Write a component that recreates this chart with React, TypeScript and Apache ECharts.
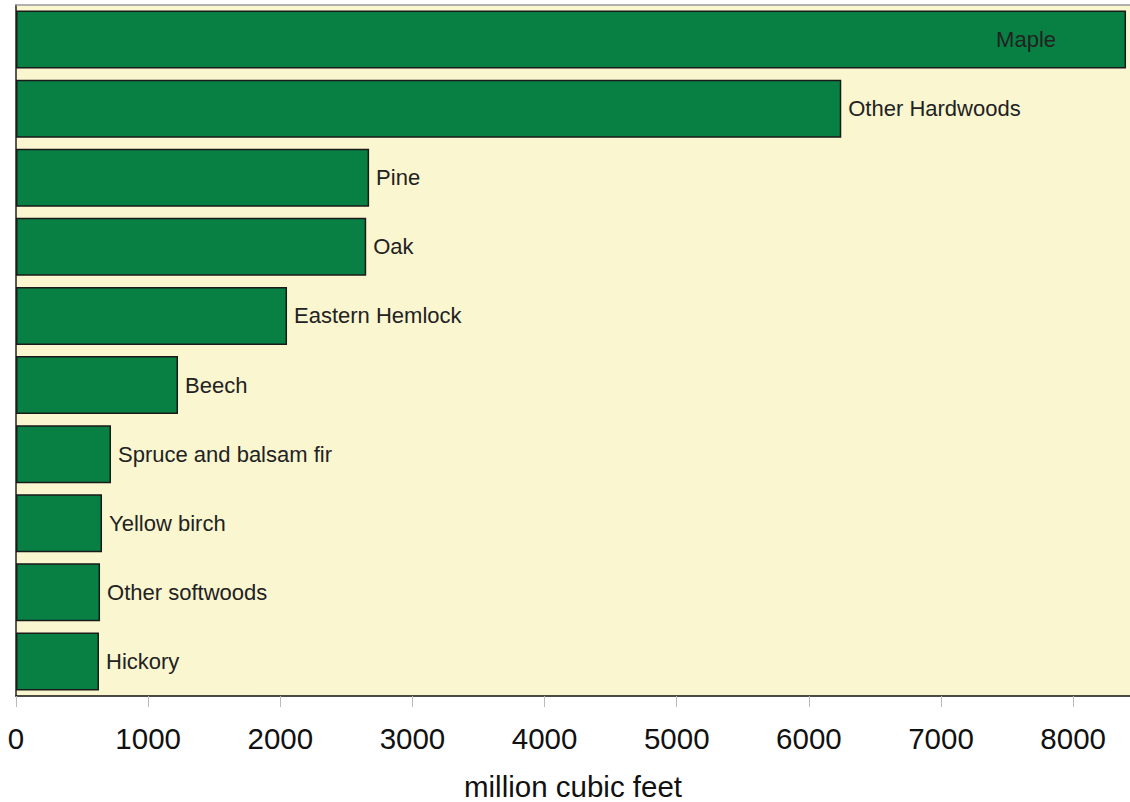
import React, { useEffect, useRef } from "react";
import * as echarts from "echarts";

const categories = [
  "Maple",
  "Other Hardwoods",
  "Pine",
  "Oak",
  "Eastern Hemlock",
  "Beech",
  "Spruce and balsam fir",
  "Yellow birch",
  "Other softwoods",
  "Hickory",
];
const volumes = [8400, 6245, 2672, 2650, 2051, 1226, 719, 651, 636, 628];
const axisMax = 8430;
const tickInterval = 1000;
const axisTitle = "million cubic feet";

const FONT = "'Liberation Sans', Arial, Helvetica, sans-serif";

export default function App() {
  const ref = useRef<HTMLDivElement>(null);
  useEffect(() => {
    if (!ref.current) return;
    const chart = echarts.init(ref.current, null, { renderer: "svg" });
    const data = volumes.map((v, i) => {
      if (i === 0) {
        return {
          value: v,
          label: { position: "insideRight", distance: 70 },
        };
      }
      return { value: v };
    });
    chart.setOption({
      animation: false,
      backgroundColor: "#ffffff",
      grid: {
        left: 16,
        right: 0,
        top: 5,
        bottom: 106,
        show: true,
        backgroundColor: "#FAF6D0",
        borderWidth: 0,
        containLabel: false,
        outerBoundsMode: "none",
      },
      xAxis: [
        {
          type: "value",
          min: 0,
          max: axisMax,
          interval: tickInterval,
          position: "bottom",
          splitLine: { show: false },
          axisLine: { show: true, lineStyle: { color: "#111", width: 1.5 } },
          axisTick: {
            show: true,
            length: 11,
            lineStyle: { color: "#bbbbbb", width: 1 },
          },
          axisLabel: {
            fontFamily: FONT,
            fontSize: 29.5,
            color: "#111",
            margin: 27,
            formatter: (v: number) => (v % tickInterval === 0 ? String(v) : ""),
          },
          name: axisTitle,
          nameLocation: "middle",
          nameGap: 75,
          nameTextStyle: { fontFamily: FONT, fontSize: 29.5, color: "#111" },
        },
        {
          type: "value",
          min: 0,
          max: axisMax,
          position: "top",
          splitLine: { show: false },
          axisLine: { show: true, lineStyle: { color: "#999", width: 1.5 } },
          axisTick: { show: false },
          axisLabel: { show: false },
        },
      ],
      yAxis: {
        type: "category",
        data: categories,
        inverse: true,
        axisLine: { show: true, lineStyle: { color: "#222", width: 1.5 } },
        axisTick: { show: false },
        axisLabel: { show: false },
        splitLine: { show: false },
      },
      series: [
        {
          type: "bar",
          data,
          barCategoryGap: "16%",
          itemStyle: {
            color: "#087F43",
            borderColor: "#1a1a1a",
            borderWidth: 1.5,
          },
          label: {
            show: true,
            position: "right",
            distance: 7,
            formatter: (p: any) => categories[p.dataIndex],
            fontFamily: FONT,
            fontSize: 22,
            color: "#222",
          },
        },
      ],
    });
    return () => chart.dispose();
  }, []);
  return (
    <div
      ref={ref}
      style={{ position: "absolute", left: 0, top: 0, width: 1130, height: 802 }}
    />
  );
}
